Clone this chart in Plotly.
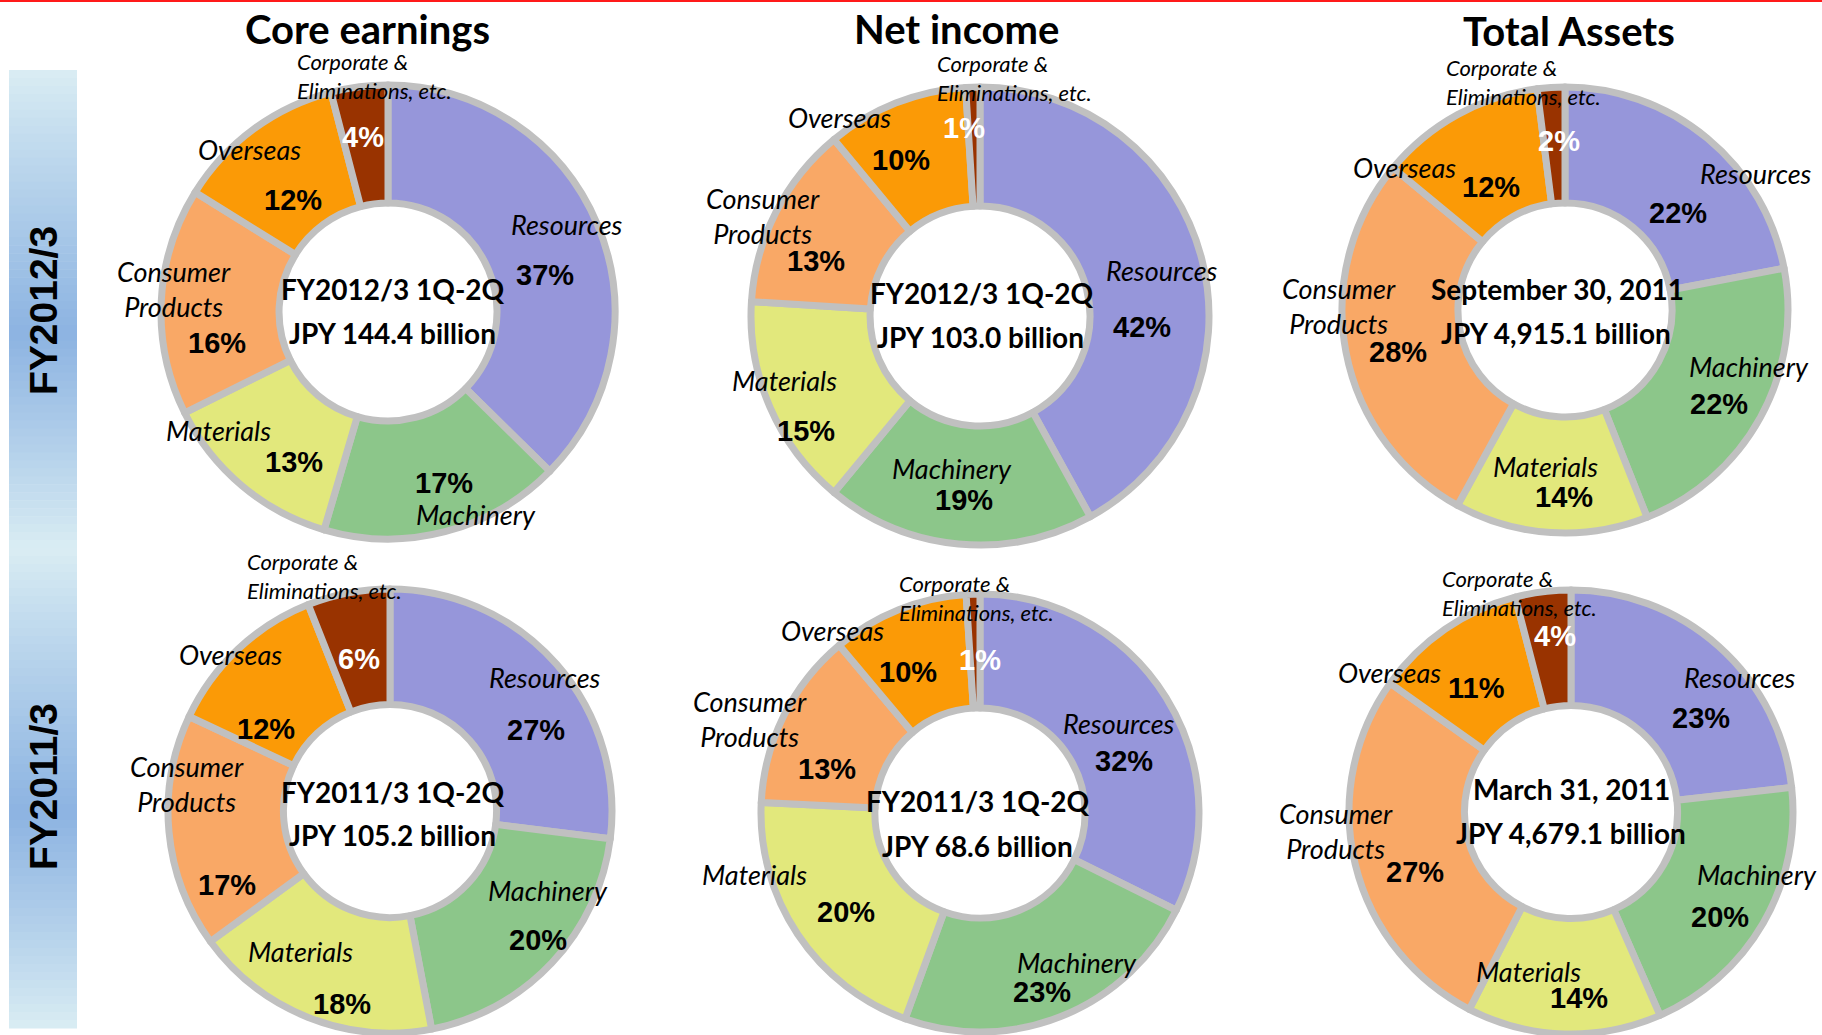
import plotly.graph_objects as go

W, H = 1822, 1035

# ---------------- data ----------------
segments = ["Resources", "Machinery", "Materials", "Consumer Products", "Overseas",
            "Corporate & Eliminations, etc."]
segment_labels = ["Resources", "Machinery", "Materials", "Consumer<br>Products", "Overseas",
                  "Corporate &<br>Eliminations, etc."]
core_fy2012 = [37, 17, 13, 16, 12, 4]
net_fy2012 = [42, 19, 15, 13, 10, 1]
assets_fy2012 = [22, 22, 14, 28, 12, 2]
core_fy2011 = [27, 20, 18, 17, 12, 6]
net_fy2011 = [32, 23, 20, 13, 10, 1]
assets_fy2011 = [23, 20, 14, 27, 11, 4]
column_titles = ["Core earnings", "Net income", "Total Assets"]
row_labels = ["FY2012/3", "FY2011/3"]
center_texts = [
    ["FY2012/3 1Q-2Q", "JPY 144.4 billion"],
    ["FY2012/3 1Q-2Q", "JPY 103.0 billion"],
    ["September 30, 2011", "JPY 4,915.1 billion"],
    ["FY2011/3 1Q-2Q", "JPY 105.2 billion"],
    ["FY2011/3 1Q-2Q", "JPY 68.6 billion"],
    ["March 31, 2011", "JPY 4,679.1 billion"],
]
chart_values = [core_fy2012, net_fy2012, assets_fy2012, core_fy2011, net_fy2011, assets_fy2011]

# ---------------- styling / layout ----------------
colors = ["#9696da", "#8cc68a", "#e2e87c", "#f9a866", "#fb9a06", "#993300"]
pct_colors = ["black", "black", "black", "black", "black", "white"]
ring_line = "#c0c0c0"

# per chart: center x, center y, radius (pixels)
geom = [
    (388, 312, 227), (980, 316, 229), (1565, 310, 223),
    (390, 811, 222), (980, 813, 219), (1571, 812, 222),
]
# name label positions (pixel centers); corporate label uses left x
name_pos = [
    [(567, 225), (476, 514), (218, 431), (174, 289), (249, 149), (295, 76)],
    [(1162, 271), (952, 469), (784, 380), (763, 216), (839, 117), (935, 78)],
    [(1756, 173), (1749, 366), (1545, 466), (1339, 306), (1404, 167), (1444, 82)],
    [(545, 677), (548, 890), (300, 951), (187, 784), (230, 654), (245, 576)],
    [(1119, 723), (1077, 962), (754, 874), (750, 719), (832, 630), (897, 598)],
    [(1740, 677), (1757, 874), (1528, 971), (1336, 831), (1389, 672), (1440, 593)],
]
pct_pos = [
    [(545, 275), (444, 483), (294, 462), (217, 343), (293, 200), (363, 137)],
    [(1142, 327), (964, 500), (806, 431), (816, 261), (901, 160), (964, 128)],
    [(1678, 213), (1719, 404), (1564, 497), (1398, 352), (1491, 187), (1559, 141)],
    [(536, 730), (538, 940), (342, 1004), (227, 885), (266, 729), (359, 659)],
    [(1124, 761), (1042, 992), (846, 912), (827, 769), (908, 672), (980, 660)],
    [(1701, 718), (1720, 917), (1579, 998), (1415, 872), (1476, 688), (1555, 636)],
]
center_pos = [
    ((393, 289), (392, 333)), ((982, 293), (981, 337)), ((1557, 289), (1556, 333)),
    ((393, 792), (392, 835)), ((978, 801), (977, 846)), ((1571, 789), (1571, 833)),
]
title_pos = [(367, 29), (956, 29), (1569, 31)]
row_label_pos = [(43, 311), (43, 787)]

NAME_FONT = "Lato, Open Sans, sans-serif"
PCT_FONT = "Liberation Sans, Arial, sans-serif"
BOLD_FONT = "Lato, Open Sans, sans-serif"


def px(x):
    return min(1.0, max(0.0, x / W))


def py(y):
    return min(1.0, max(0.0, 1 - y / H))


def ann(x, y, text, font, xanchor="center", align="center", angle=0):
    return dict(x=px(x), y=py(y), xref="paper", yref="paper", text=text, showarrow=False,
                xanchor=xanchor, yanchor="middle", align=align, textangle=angle, font=font)


fig = go.Figure()
annotations = []
shapes = []

# top red line
shapes.append(dict(type="line", xref="paper", yref="paper", x0=0, x1=1, y0=py(1), y1=py(1),
                   line=dict(color="#ff1a1a", width=2)))

# left band with light-dark-light vertical gradient (two halves)
light = (219, 238, 244)
dark = (141, 180, 226)
band_x0, band_x1 = 9, 77
for (y_top, y_bot) in [(70, 548), (548, 1028)]:
    n = 60
    for i in range(n):
        t = (i + 0.5) / n
        f = 1 - abs(t - 0.55) / 0.55 if t < 0.55 else 1 - (t - 0.55) / 0.45
        f = max(0.0, min(1.0, f)) ** 0.9
        c = tuple(int(light[k] + (dark[k] - light[k]) * f) for k in range(3))
        y0 = y_top + (y_bot - y_top) * i / n
        y1 = y_top + (y_bot - y_top) * (i + 1) / n + 0.6
        shapes.append(dict(type="rect", xref="paper", yref="paper", layer="below",
                           x0=px(band_x0), x1=px(band_x1), y0=py(y1), y1=py(y0),
                           line=dict(width=0), fillcolor="rgb(%d,%d,%d)" % c))

for (x, y), lab in zip(row_label_pos, row_labels):
    annotations.append(ann(x, y, lab, dict(family="Liberation Sans, Arial", size=39,
                                           color="black", weight="bold"), angle=-90))

for (x, y), t in zip(title_pos, column_titles):
    annotations.append(ann(x, y, t, dict(family=BOLD_FONT, size=40, color="black",
                                         weight="bold")))

for ci, vals in enumerate(chart_values):
    cx, cy, r = geom[ci]
    r = min(r, cx, W - cx, cy, H - cy)
    fig.add_trace(go.Pie(
        values=vals, labels=segments, sort=False, direction="clockwise", rotation=0,
        hole=0.48, textinfo="none", showlegend=False,
        marker=dict(colors=colors, line=dict(color=ring_line, width=7)),
        domain=dict(x=[px(cx - r), px(cx + r)], y=[py(cy + r), py(cy - r)]),
        hovertemplate="%{label}: %{value}%<extra></extra>",
    ))
    for si in range(len(segments)):
        nx, ny = name_pos[ci][si]
        if si == 5:
            annotations.append(ann(nx, ny, segment_labels[si],
                                   dict(family=NAME_FONT, size=22, color="black",
                                        style="italic"),
                                   xanchor="left", align="left"))
        else:
            annotations.append(ann(nx, ny, segment_labels[si],
                                   dict(family=NAME_FONT, size=27, color="black",
                                        style="italic")))
        qx, qy = pct_pos[ci][si]
        annotations.append(ann(qx, qy, "%d%%" % vals[si],
                               dict(family=PCT_FONT, size=29, color=pct_colors[si],
                                    weight="bold")))
    for (x, y), t in zip(center_pos[ci], center_texts[ci]):
        annotations.append(ann(x, y, t, dict(family=BOLD_FONT, size=28, color="black",
                                             weight="bold")))

fig.update_layout(
    width=W, height=H, margin=dict(l=0, r=0, t=0, b=0),
    paper_bgcolor="white", plot_bgcolor="white",
    annotations=annotations, shapes=shapes,
)

fig.write_html("out.html", config={"displayModeBar": False},
               post_script="document.body.style.margin='0px';")
